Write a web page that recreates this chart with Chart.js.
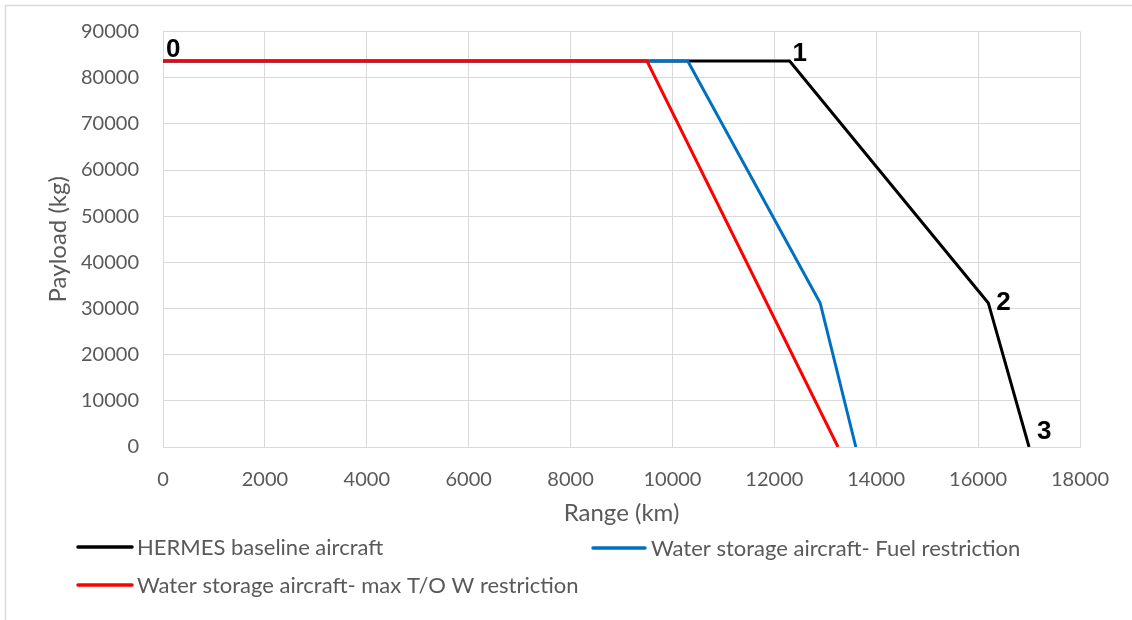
<!DOCTYPE html>
<html>
<head>
<meta charset="utf-8">
<title>Payload-range</title>
<script src="https://cdn.jsdelivr.net/npm/chart.js@4.4.0/dist/chart.umd.min.js"></script>
<style>
  body { margin: 0; background: #fff; }
  #wrap { width: 1132px; height: 620px; }
</style>
</head>
<body>
<div id="wrap"><canvas id="payloadChart" width="1132" height="620"></canvas></div>
<script>
// payload-range data (km / kg)
const seriesNames = [
  "HERMES baseline aircraft",
  "Water storage aircraft- Fuel restriction",
  "Water storage aircraft- max T/O W restriction",
];
const seriesColors = ["#000000", "#0070C0", "#FF0000"];

const baselineRange = [0, 12300, 16200, 17000];
const baselinePayload = [83600, 83600, 31200, 0];
const fuelRange = [0, 10300, 12900, 13600];
const fuelPayload = [83600, 83600, 31200, 0];
const mtowRange = [0, 9500, 13250];
const mtowPayload = [83600, 83600, 0];

const pointTags = ["0", "1", "2", "3"];

const xTicks = [0, 2000, 4000, 6000, 8000, 10000, 12000, 14000, 16000, 18000];
const yTicks = [0, 10000, 20000, 30000, 40000, 50000, 60000, 70000, 80000, 90000];

const toPoints = (xs, ys) => xs.map((x, i) => ({ x: x, y: ys[i] }));

Chart.defaults.font.family = "Lato, 'Open Sans', sans-serif";
Chart.defaults.color = "#595959";

const gridGray = "#d9d9d9";

// outer frame of the chart
const framePlugin = {
  id: "frame",
  beforeDraw(chart) {
    const c = chart.ctx;
    c.save();
    c.strokeStyle = gridGray;
    c.lineWidth = 1.5;
    c.beginPath();
    c.moveTo(5.5, chart.height);
    c.lineTo(5.5, 5.5);
    c.lineTo(chart.width, 5.5);
    c.stroke();
    c.restore();
  },
};

// numbers 0..3 next to the baseline corner points
const tagPlugin = {
  id: "tags",
  afterDatasetsDraw(chart) {
    const c = chart.ctx;
    const meta = chart.getDatasetMeta(0);
    const shift = [[3, -4], [3, 0], [8, 7], [8, -8]];
    c.save();
    c.font = "bold 26px 'Liberation Sans', Arial, sans-serif";
    c.fillStyle = "#000";
    c.textAlign = "left";
    c.textBaseline = "alphabetic";
    meta.data.forEach((pt, i) => {
      c.fillText(pointTags[i], pt.x + shift[i][0], pt.y + shift[i][1]);
    });
    c.restore();
  },
};

// legend laid out in two rows under the axis
const legendPlugin = {
  id: "sideLegend",
  afterDraw(chart) {
    const c = chart.ctx;
    const slots = [
      { x1: 78, x2: 132, y: 547, tx: 137 },
      { x1: 593, x2: 645, y: 548, tx: 651 },
      { x1: 78, x2: 132, y: 585, tx: 137 },
    ];
    c.save();
    c.font = "22px Lato, 'Open Sans', sans-serif";
    c.textBaseline = "alphabetic";
    c.textAlign = "left";
    chart.data.datasets.forEach((ds, i) => {
      const s = slots[i];
      c.strokeStyle = ds.borderColor;
      c.lineWidth = 3.5;
      c.lineCap = "round";
      c.beginPath();
      c.moveTo(s.x1, s.y);
      c.lineTo(s.x2, s.y);
      c.stroke();
      c.fillStyle = "#595959";
      c.fillText(ds.label, s.tx, s.y + 8);
    });
    c.restore();
  },
};

const ctx = document.getElementById("payloadChart").getContext("2d");

// red is drawn on top, black underneath
const lineStyle = (i) => ({
  label: seriesNames[i],
  borderColor: seriesColors[i],
  backgroundColor: seriesColors[i],
  borderWidth: 3,
  borderJoinStyle: "miter",
  showLine: true,
  pointRadius: 0,
  tension: 0,
  order: 2 - i,
});

const payloadChart = new Chart(ctx, {
  type: "scatter",
  data: {
    datasets: [
      { ...lineStyle(0), data: toPoints(baselineRange, baselinePayload) },
      { ...lineStyle(1), data: toPoints(fuelRange, fuelPayload) },
      { ...lineStyle(2), data: toPoints(mtowRange, mtowPayload) },
    ],
  },
  options: {
    responsive: false,
    animation: false,
    layout: { padding: { left: 44, top: 31.5, right: 52, bottom: 92 } },
    scales: {
      x: {
        type: "linear",
        min: 0,
        max: 18000,
        afterBuildTicks: (scale) => {
          scale.ticks = xTicks.map((v) => ({ value: v }));
        },
        afterFit: (scale) => {
          scale.height = 81;
        },
        grid: { color: gridGray, drawTicks: false },
        border: { color: gridGray },
        ticks: {
          padding: 21,
          font: { size: 20 },
          callback: (val) => String(val),
        },
        title: {
          display: true,
          text: "Range (km)",
          font: { size: 24 },
          padding: 0,
        },
      },
      y: {
        type: "linear",
        min: 0,
        max: 90000,
        afterBuildTicks: (scale) => {
          scale.ticks = yTicks.map((v) => ({ value: v }));
        },
        afterFit: (scale) => {
          scale.width = 119;
        },
        grid: { color: gridGray, tickLength: 5, tickColor: "rgba(0,0,0,0)" },
        border: { color: gridGray },
        ticks: {
          padding: 19,
          font: { size: 20 },
          callback: (val) => String(val),
        },
        title: {
          display: true,
          text: "Payload (kg)",
          font: { size: 24 },
          padding: 0,
        },
      },
    },
    plugins: {
      legend: { display: false },
      tooltip: { enabled: false },
    },
  },
  plugins: [framePlugin, tagPlugin, legendPlugin],
});
</script>
</body>
</html>
